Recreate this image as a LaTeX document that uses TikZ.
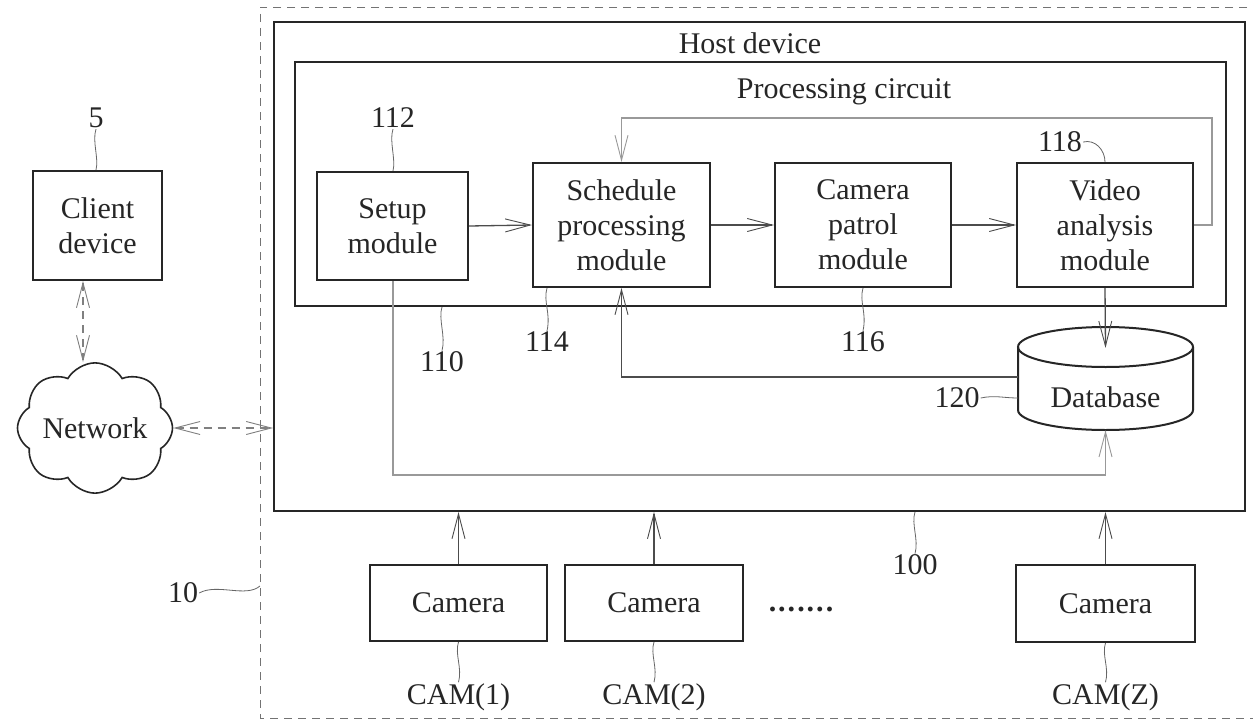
\documentclass[tikz,border=0pt]{standalone}
\usepackage{fontspec}
\setmainfont{Liberation Serif}
\usetikzlibrary{arrows.meta,shapes.symbols,calc}
\begin{document}
\begin{tikzpicture}[x=1pt,y=-1pt,
  font=\fontsize{30}{35}\selectfont,
  box/.style={draw=black!85, line width=2pt, align=center, inner sep=0pt, text=black!85},
  lbl/.style={inner sep=1pt, text=black!85},
  lead/.style={draw=black!60, line width=0.8pt},
  conn/.style={draw=black!70, line width=1.3pt, -{Straight Barb[length=25pt,width=13pt,line width=0.9pt]}},
  lightconn/.style={conn, draw=black!40},
  dconn/.style={draw=black!50, line width=1.1pt, dash pattern=on 8pt off 6pt,
     {Straight Barb[length=25pt,width=13pt,line width=0.9pt]}-{Straight Barb[length=25pt,width=13pt,line width=0.9pt]}},
  outer/.style={draw=black!55, line width=1pt, dash pattern=on 8pt off 6pt}
]
\useasboundingbox[fill=white] (0,0) rectangle (1253,720);

% outer dashed system 10
\draw[outer] (1275,7) -- (260,7) -- (260,718) -- (1275,718);
\coordinate (o10) at (260,586);

% host device 100
\node[box, minimum width=971pt, minimum height=489pt] (host) at (759.5,266.5) {};
\node[lbl] (hostlbl) at (750,43) {Host device};

% processing circuit 110
\node[box, minimum width=931pt, minimum height=244pt] (proc) at (760.5,184) {};
\node[lbl] (proclbl) at (844,92) {Processing circuit};

% modules
\node[box, minimum width=151pt, minimum height=108pt] (setup) at (392.5,226) {Setup\\module};
\node[box, minimum width=177pt, minimum height=124pt] (sched) at (621.5,225) {Schedule\\processing\\module};
\node[box, minimum width=176pt, minimum height=124pt] (patrol) at (863,225) {Camera\\patrol\\module};
\node[box, minimum width=176pt, minimum height=124pt] (video) at (1105,225) {Video\\analysis\\module};

% client & network
\node[box, minimum width=129pt, minimum height=109pt] (client) at (97.5,225.5) {Client\\device};
\node[cloud, draw=black!85, line width=1.6pt, cloud puffs=8, cloud puff arc=120, aspect=1.2,
      minimum width=155pt, minimum height=129pt, inner sep=-6pt, text=black!85] (net) at (95,428) {Network};

% database 120
\node[inner sep=0pt, minimum width=175pt, minimum height=103pt] (db) at (1105.5,378.5) {};
\draw[draw=black!85, line width=2pt, fill=white] (1018,347) -- (1018,410)
   arc[start angle=180, end angle=0, x radius=87.5, y radius=20] -- (1193,347);
\draw[draw=black!85, line width=2pt] (1105.5,347) ellipse [x radius=87.5, y radius=20];
\node[lbl] (dbtext) at (1105.5,397) {Database};

% cameras
\node[box, minimum width=177pt, minimum height=76pt] (cam1) at (458.5,603) {Camera};
\node[box, minimum width=178pt, minimum height=76pt] (cam2) at (654,603) {Camera};
\node[box, minimum width=179pt, minimum height=77pt] (camz) at (1105.5,603.5) {Camera};
\node[lbl] (dots) at (801,609) {\textbf{.\kern2pt.\kern2pt.\kern2pt.\kern2pt.\kern2pt.\kern2pt.}};

% connectors inside processing circuit
\draw[conn] (setup.east) -- (sched.west);
\draw[conn] (sched.east) -- (patrol.west);
\draw[conn] (patrol.east) -- (video.west);
\coordinate (fb1) at (1212,118);
\draw[lightconn] (video.east) -| (fb1) -- (fb1 -| sched.north) -- (sched.north);

% database connections
\draw[conn] (video.south) -- ($(db.north)+(0,21)$);
\coordinate (dbw) at (1018,377);
\draw[conn] (dbw) -| (sched.south);
\coordinate (sl) at (393,475);
\draw[lightconn] (setup.south -| sl) |- (sl -| db.south) -- (db.south);

% cameras to host
\draw[conn] (cam1.north) -- (cam1.north |- host.south);
\draw[conn] (cam2.north) -- (cam2.north |- host.south);
\draw[conn] (camz.north) -- (camz.north |- host.south);

% network links
\draw[dconn] ([xshift=-14.5pt]client.south) -- ([xshift=-14.5pt]client.south |- net.north);
\draw[dconn] (net.east) -- (net.east -| host.west);

% reference labels
\node[lbl] (l5) at (96,118) {5};
\draw[lead] (l5.south) .. controls +(-4,12) and +(3,-12) .. (l5.south |- client.north);
\node[lbl] (l112) at (393,118) {112};
\draw[lead] (l112.south) .. controls +(-4,12) and +(3,-12) .. (l112.south |- setup.north);
\node[lbl] (l118) at (1060,142) {118};
\draw[lead] (l118.east) .. controls +(12,-3) and +(0,-12) .. (video.north);
\node[lbl] (l110) at (442,362) {110};
\draw[lead] (l110.north) .. controls +(4,-14) and +(-4,12) .. (l110.north |- proc.south);
\node[lbl] (l114) at (547,342) {114};
\draw[lead] (l114.north) .. controls +(4,-18) and +(-4,14) .. (l114.north |- sched.south);
\node[lbl] (l116) at (863,342) {116};
\draw[lead] (l116.north) .. controls +(4,-18) and +(-4,14) .. (l116.north |- patrol.south);
\node[lbl] (l120) at (957,398) {120};
\draw[lead] (l120.east) .. controls +(14,-3) and +(-14,0) .. (l120.east -| db.west);
\node[lbl] (l100) at (915,565) {100};
\draw[lead] (l100.north) .. controls +(4,-14) and +(-4,12) .. (l100.north |- host.south);
\node[lbl] (l10) at (183,593) {10};
\draw[lead] (l10.east) .. controls +(18,-10) and +(-14,12) .. (o10);
\node[lbl] (lc1) at (458.5,697) {CAM(1)};
\draw[lead] (lc1.north) .. controls +(4,-14) and +(-4,12) .. (lc1.north |- cam1.south);
\node[lbl] (lc2) at (654,697) {CAM(2)};
\draw[lead] (lc2.north) .. controls +(4,-14) and +(-4,12) .. (lc2.north |- cam2.south);
\node[lbl] (lcz) at (1105.5,697) {CAM(Z)};
\draw[lead] (lcz.north) .. controls +(4,-14) and +(-4,12) .. (lcz.north |- camz.south);
\end{tikzpicture}
\end{document}
